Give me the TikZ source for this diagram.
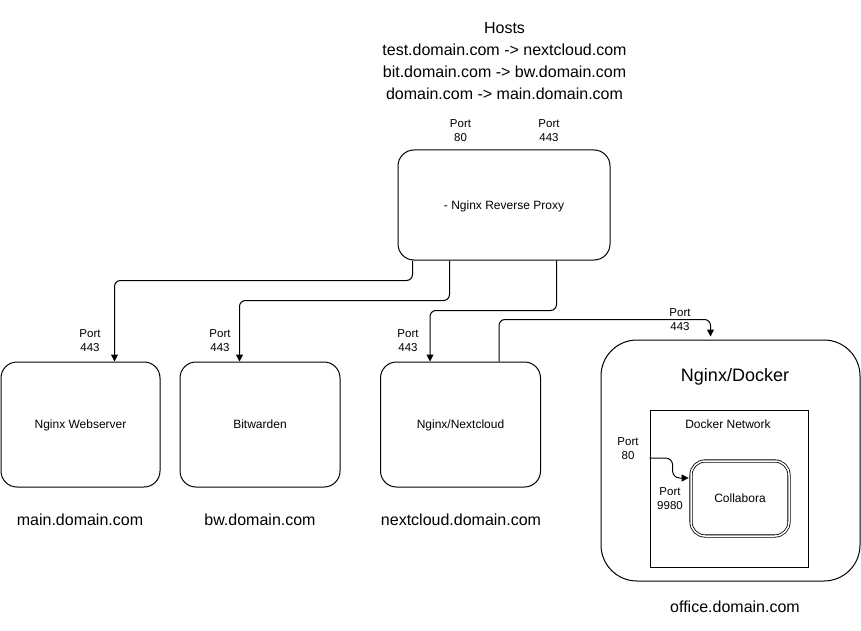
\documentclass[tikz,border=0pt]{standalone}
\usepackage{fontspec}
\setmainfont{Liberation Sans}
\usetikzlibrary{arrows.meta,calc}
\begin{document}
\begin{tikzpicture}[x=1pt,y=-1pt,
  box/.style={draw,line width=1pt,rounded corners=16pt,inner sep=0pt,text depth=0pt,font=\fontsize{12}{14}\selectfont},
  conn/.style={line width=1pt,rounded corners=6pt,-{Triangle[length=7pt,width=7pt]}},
  lbl/.style={font=\fontsize{11.5}{14}\selectfont,align=center,inner sep=0pt},
  dom/.style={font=\fontsize{16}{18}\selectfont,inner sep=0pt},
  hdr/.style={font=\fontsize{16}{22}\selectfont,align=center,inner sep=0pt}]
\useasboundingbox (0,0) rectangle (861,631);
% title
\node[hdr] (hosts) at (504.5,61) {Hosts\\test.domain.com -> nextcloud.com\\bit.domain.com -> bw.domain.com\\domain.com -> main.domain.com};
% boxes
\node[box,minimum width=212pt,minimum height=110pt] (proxy) at (504,205) {- Nginx Reverse Proxy};
\node[box,minimum width=159pt,minimum height=125pt] (web) at (80.5,424.5) {Nginx Webserver};
\node[box,minimum width=160pt,minimum height=125pt] (bw) at (260,424.5) {Bitwarden};
\node[box,minimum width=160pt,minimum height=125pt] (nc) at (460.5,424.5) {Nginx/Nextcloud};
\node[box,rounded corners=36pt,minimum width=259pt,minimum height=241pt] (docker) at (730.5,460.5) {};
\node[font=\fontsize{18}{20}\selectfont,inner sep=0pt] (dockerlbl) at (735,377) {Nginx/Docker};
\node[draw,line width=1pt,minimum width=158pt,minimum height=157pt,inner sep=0pt] (dnet) at (729,488.5) {};
\node[font=\fontsize{12}{14}\selectfont,inner sep=0pt] (dnetlbl) at (728,424) {Docker Network};
\node[draw,line width=0.8pt,double,double distance=1.5pt,rounded corners=14pt,minimum width=98pt,minimum height=75pt,inner sep=0pt,text depth=0pt,font=\fontsize{12}{14}\selectfont] (collab) at (740,498.5) {Collabora};
% domain labels
\node[dom] (d1) at (80,520) {main.domain.com};
\node[dom] (d2) at (260,520) {bw.domain.com};
\node[dom] (d3) at (461,520) {nextcloud.domain.com};
\node[dom] (d4) at (735,607) {office.domain.com};
% port labels
\node[lbl] (p80) at (460.5,130.5) {Port\\80};
\node[lbl] (p443) at (549,130.5) {Port\\443};
\node[lbl] (pw) at (90,340.5) {Port\\443};
\node[lbl] (pb) at (220,340.5) {Port\\443};
\node[lbl] (pn) at (408,340.5) {Port\\443};
\node[lbl] (pd) at (680,320) {Port\\443};
\node[lbl] (pc80) at (628,449) {Port\\80};
\node[lbl] (pc9980) at (670,499) {Port\\9980};
% connectors
\draw[conn] ([xshift=15pt]proxy.south west) -- ++(0,20) -| ([xshift=114pt]web.north west);
\draw[conn] ([xshift=52pt]proxy.south west) -- ++(0,40) -| ([xshift=60pt]bw.north west);
\draw[conn] ([xshift=159pt]proxy.south west) -- ++(0,50) -| ([xshift=50pt]nc.north west);
\draw[conn] ([xshift=119pt]nc.north west) -- ++(0,-42) -| ([xshift=110pt,yshift=3pt]docker.north west);
\draw[conn,rounded corners=7pt] ([yshift=30.5pt]dnet.west) -| ($([yshift=20.5pt]collab.west)+(-18,0)$) -- ([yshift=20.5pt,xshift=-2pt]collab.west);
\end{tikzpicture}
\end{document}
